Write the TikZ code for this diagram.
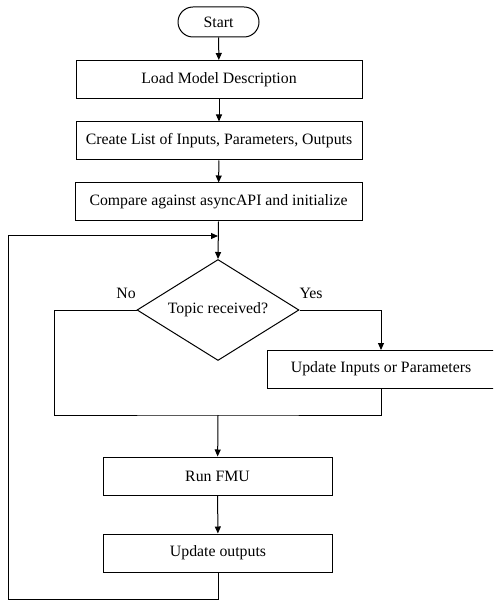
\documentclass[tikz,border=0pt]{standalone}
\usepackage{fontspec}
\setmainfont{Liberation Serif}
\usetikzlibrary{shapes.geometric,arrows.meta}
\begin{document}
\begin{tikzpicture}[x=1pt,y=-1pt,
  every node/.style={font=\fontsize{15.8}{18}\selectfont, inner sep=0pt},
  proc/.style={draw, line width=1pt, minimum height=38pt},
  term/.style={draw, line width=1pt, rounded corners=15pt, minimum width=81pt, minimum height=30pt},
  dec/.style={draw, line width=1pt, diamond, minimum width=162pt, minimum height=101pt, aspect=1.6},
  flow/.style={line width=1pt, -{Triangle[length=7pt,width=6pt]}},
  link/.style={line width=1pt},
  lab/.style={font=\fontsize{15.8}{18}\selectfont}]
\useasboundingbox (0,0) rectangle (493,601);
\clip (0,0) rectangle (493,601);

\node[term] (start) at (218.5,22) {Start};
\node[proc, minimum width=286pt] (load) at (219,79.5) {Load Model Description};
\node[proc, minimum width=286pt] (list) at (219,141) {Create List of Inputs, Parameters, Outputs};
\node[proc, minimum width=287pt] (cmp) at (218.5,202) {Compare against asyncAPI and initialize};
\node[dec] (topic) at (218,310) {Topic received?};
\node[proc, minimum width=240pt] (upd) at (387,369) {\hspace*{-12pt}Update Inputs or Parameters};
\node[proc, minimum width=229pt] (run) at (217.5,476) {Run FMU};
\node[proc, minimum width=229pt] (out) at (218,553) {Update outputs};

\node[lab] at (126,293) {No};
\node[lab] at (311,293) {Yes};

\coordinate (loopin) at (218,236);
\coordinate (merge) at (218,415);
\coordinate (nol) at (54,415);
\coordinate (yesr) at (381,310);
\coordinate (updb) at (381,388);

\draw[flow] (start) -- (load);
\draw[flow] (load) -- (list);
\draw[flow] (list) -- (cmp);
\draw[flow] (cmp.south) -- (topic.north);
\draw[flow] (topic.east) -- (yesr) -- (381,350);
\draw[link] (topic.west) -| (nol) -- (merge) -- (381,415) -- (updb);
\draw[flow] (merge) -- (run);
\draw[flow] (run) -- (out);
\draw[flow] (out.south) -- (218,599) -| (8.5,236) -- (loopin);
\end{tikzpicture}
\end{document}
